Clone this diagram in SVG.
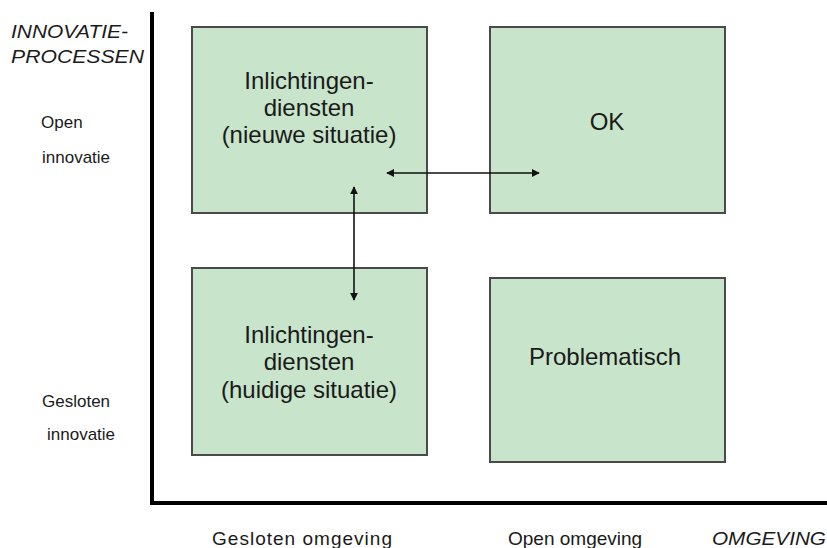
<svg xmlns="http://www.w3.org/2000/svg" width="827" height="548" viewBox="0 0 827 548">
<defs>
<style>
.box{fill:#c8e4cb;stroke:#4a4a4a;stroke-width:2}
.bt{font-family:"Liberation Sans",Arial,sans-serif;font-size:24px;fill:#1a1a1a;text-anchor:middle}
.lab{font-family:"Liberation Sans",Arial,sans-serif;font-size:17px;fill:#1a1a1a}
.it{font-family:"Liberation Sans",Arial,sans-serif;font-size:19px;font-style:italic;fill:#1a1a1a}
.ax{stroke:#000;stroke-width:4;fill:none}
.con{stroke:#111;stroke-width:1.6;fill:none;marker-start:url(#ah);marker-end:url(#ah)}
</style>
<marker id="ah" viewBox="0 0 10 10" refX="9" refY="5" markerWidth="5" markerHeight="5" orient="auto-start-reverse" markerUnits="strokeWidth">
<path d="M0,0 L10,5 L0,10 Z" fill="#111"/>
</marker>
</defs>
<rect width="827" height="548" fill="#fff"/>
<g id="axes">
<path class="ax" d="M152,12 V503 H827"/>
</g>
<g id="axis-labels">
<text class="it" x="11" y="38" textLength="117" lengthAdjust="spacingAndGlyphs">INNOVATIE-</text>
<text class="it" x="11" y="63" textLength="133" lengthAdjust="spacingAndGlyphs">PROCESSEN</text>
<text class="lab" x="41" y="128">Open</text>
<text class="lab" x="42" y="163">innovatie</text>
<text class="lab" x="42" y="407">Gesloten</text>
<text class="lab" x="47" y="440">innovatie</text>
<text class="lab" x="212" y="545" style="font-size:19px" textLength="180" lengthAdjust="spacing">Gesloten  omgeving</text>
<text class="lab" x="508" y="545" style="font-size:19px">Open omgeving</text>
<text class="it" x="712" y="545" textLength="114" lengthAdjust="spacingAndGlyphs">OMGEVING</text>
</g>
<g id="node-nieuw">
<rect class="box" x="192" y="27" width="235" height="186"/>
<text class="bt" x="309" y="89">Inlichtingen-</text>
<text class="bt" x="309" y="116">diensten</text>
<text class="bt" x="309" y="143">(nieuwe situatie)</text>
</g>
<g id="node-ok">
<rect class="box" x="490" y="27" width="235" height="186"/>
<text class="bt" x="607" y="130">OK</text>
</g>
<g id="node-huidig">
<rect class="box" x="192" y="268" width="235" height="187"/>
<text class="bt" x="309" y="343">Inlichtingen-</text>
<text class="bt" x="309" y="370">diensten</text>
<text class="bt" x="309" y="398">(huidige situatie)</text>
</g>
<g id="node-problematisch">
<rect class="box" x="490" y="278" width="235" height="184"/>
<text class="bt" x="605" y="365">Problematisch</text>
</g>
<g id="connectors">
<line class="con" x1="387" y1="173" x2="539" y2="173"/>
<line class="con" x1="354" y1="187" x2="354" y2="300"/>
</g>
</svg>
